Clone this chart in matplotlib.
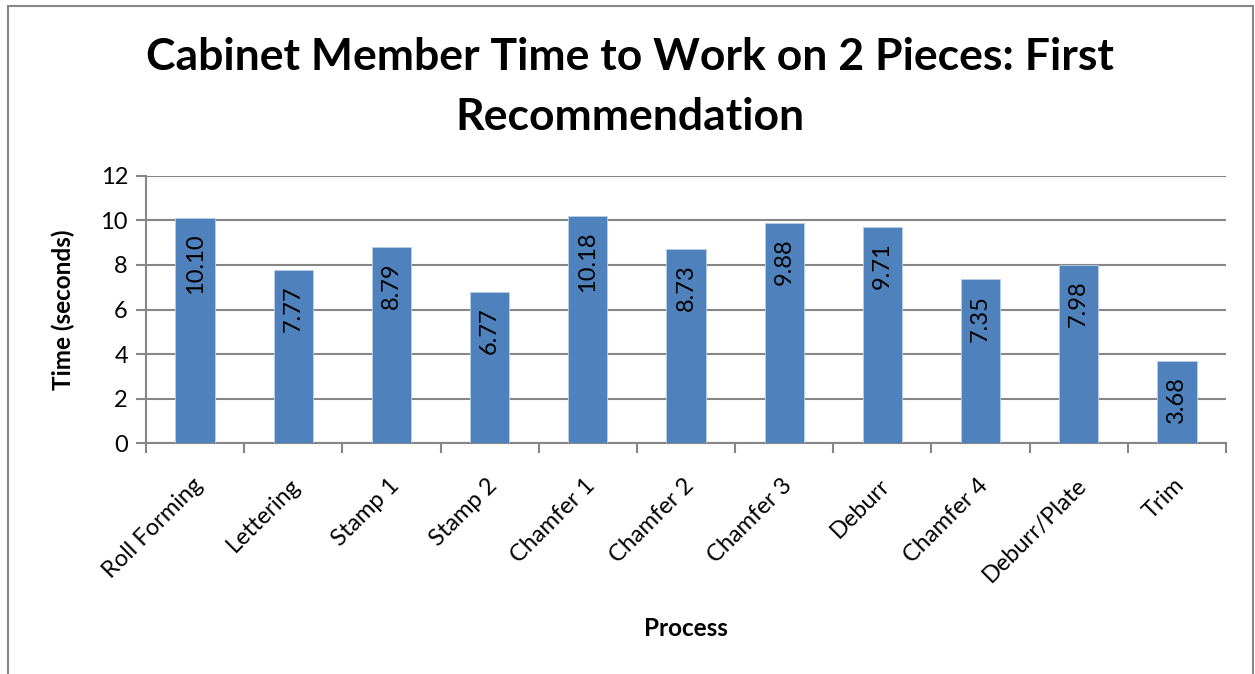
import numpy as np
import matplotlib.pyplot as plt
from matplotlib.patches import Rectangle

# data
processes = ['Roll Forming', 'Lettering', 'Stamp 1', 'Stamp 2', 'Chamfer 1', 'Chamfer 2',
             'Chamfer 3', 'Deburr', 'Chamfer 4', 'Deburr/Plate', 'Trim']
times = [10.10, 7.77, 8.79, 6.77, 10.18, 8.73, 9.88, 9.71, 7.35, 7.98, 3.68]
yticks = [0, 2, 4, 6, 8, 10, 12]

plt.rcParams['font.family'] = ['Lato', 'DejaVu Sans']
grey = '#868686'

fig = plt.figure(figsize=(12.55, 6.74), dpi=100)
ax = fig.add_axes([0.1163, 0.3427, 0.8606, 0.3962])

# outer chart border (bottom edge runs off the picture)
fig.patches.append(Rectangle((8 / 1255, -0.01), 1245 / 1255, 1 - 6 / 674 + 0.01,
                             transform=fig.transFigure, fill=False, edgecolor=grey, lw=1.5))

x = np.arange(len(processes))
ax.bar(x, times, width=0.4, color='#4F81BD', edgecolor='#B9CDE5', linewidth=0.6, zorder=3)

# value labels inside the top of each bar
for xi, v in zip(x, times):
    ax.annotate('%.2f' % v, (xi, v), xytext=(0, -11), textcoords='offset points',
                rotation=90, ha='center', va='top', fontsize=17, color='black', zorder=4)

ax.set_xlim(-0.5, len(processes) - 0.5)
ax.set_ylim(0, 12)
ax.set_yticks(yticks)
ax.set_yticklabels([str(t) for t in yticks], fontsize=17)
ax.yaxis.grid(True, color=grey, linewidth=1.5, zorder=0)
ax.tick_params(axis='y', length=7, width=1.5, color=grey, pad=6, direction='out')

# ticks sit between categories, names rotated under each bar
ax.set_xticks(np.arange(len(processes) + 1) - 0.5)
ax.set_xticklabels([])
ax.tick_params(axis='x', length=7, width=1.5, color=grey, direction='out')
for xi, name in zip(x, processes):
    ax.annotate(name, (xi, 0), xytext=(3, -28), textcoords='offset points',
                rotation=45, rotation_mode='anchor', ha='right', va='center', fontsize=17)

for side in ['top', 'right']:
    ax.spines[side].set_visible(False)
for side in ['left', 'bottom']:
    ax.spines[side].set_color(grey)
    ax.spines[side].set_linewidth(1.5)

ax.set_ylabel('Time (seconds)', fontsize=17.5, fontweight='bold', labelpad=18)
fig.text(686 / 1255, 1 - 629 / 674, 'Process', fontsize=17.5, fontweight='bold',
         ha='center', va='center')
fig.text(630 / 1255, 1 - 87 / 674, 'Cabinet Member Time to Work on 2 Pieces: First\nRecommendation',
         fontsize=32, fontweight='bold', ha='center', va='center', linespacing=1.58)

fig.savefig('out.png', dpi=100)
